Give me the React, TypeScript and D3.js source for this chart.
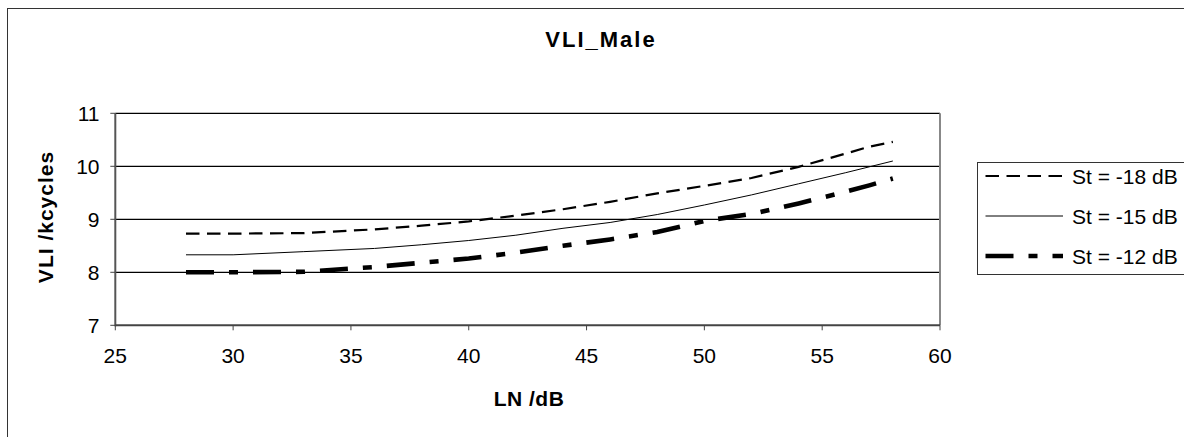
import React from "react";
import * as d3 from "d3";

const title = "VLI_Male";
const xLabel = "LN /dB";
const yLabel = "VLI /kcycles";
const xTicks = [25, 30, 35, 40, 45, 50, 55, 60];
const yTicks = [7, 8, 9, 10, 11];
const ln = [28, 30, 33, 36, 38, 40, 42, 44, 46, 48, 50, 52, 54, 56, 57, 58];
const st18 = [8.73, 8.73, 8.74, 8.81, 8.88, 8.96, 9.07, 9.19, 9.33, 9.49, 9.63, 9.78, 9.99, 10.24, 10.37, 10.46];
const st15 = [8.33, 8.33, 8.39, 8.45, 8.52, 8.6, 8.7, 8.83, 8.94, 9.09, 9.27, 9.46, 9.67, 9.88, 9.99, 10.1];
const st12 = [8.0, 8.0, 8.01, 8.1, 8.18, 8.26, 8.37, 8.5, 8.62, 8.76, 8.97, 9.1, 9.3, 9.52, 9.64, 9.77];
const seriesNames = ["St = -18 dB", "St = -15 dB", "St = -12 dB"];

const styles = [
  { width: 2.2, dash: "13.5 7.5" },
  { width: 1, dash: "" },
  { width: 4.6, dash: "28 15 9 15" },
];

const FONT = "Arial, 'Liberation Sans', sans-serif";

export default function App() {
  const W = 1184, H = 437;
  const left = 115.3, right = 940, top = 113.3, bottom = 325.3;
  const x = d3.scaleLinear().domain([25, 60]).range([left, right]);
  const y = d3.scaleLinear().domain([7, 11]).range([bottom, top]);
  const data = [st18, st15, st12];
  const line = d3
    .line<number>()
    .x((_, i) => x(ln[i]))
    .y((d) => y(d));

  const legY = [176, 216, 256];

  return (
    <svg
      width={W}
      height={H}
      style={{ position: "absolute", left: 0, top: 0, display: "block", background: "#fff" }}
      fontFamily={FONT}
    >
      <rect x={7.5} y={8.5} width={1200} height={500} fill="#fff" stroke="#333" strokeWidth={1} />
      <text x={601} y={46.5} textAnchor="middle" fontWeight="bold" fontSize={22} letterSpacing={2}>
        {title}
      </text>
      {/* gridlines */}
      {yTicks.filter((t) => t !== 7).map((t) => (
        <line key={t} x1={left} x2={right} y1={y(t)} y2={y(t)} stroke="#000" strokeWidth={1.2} />
      ))}
      {/* plot border */}
      <line x1={right} x2={right} y1={top} y2={bottom} stroke="#888" strokeWidth={2} />
      <line x1={left} x2={left} y1={top} y2={bottom + 1} stroke="#555" strokeWidth={2} />
      <line x1={left} x2={right} y1={bottom} y2={bottom} stroke="#444" strokeWidth={2} />
      {/* y ticks */}
      {yTicks.map((t) => (
        <g key={t}>
          <line x1={left - 5} x2={left} y1={y(t)} y2={y(t)} stroke="#444" strokeWidth={1} />
          <text x={99.5} y={y(t)} dy="0.36em" textAnchor="end" fontSize={21}>
            {t}
          </text>
        </g>
      ))}
      {/* x ticks */}
      {xTicks.map((t) => (
        <g key={t}>
          <line x1={x(t)} x2={x(t)} y1={bottom} y2={bottom + 5} stroke="#444" strokeWidth={1} />
          <text x={x(t)} y={362.5} textAnchor="middle" fontSize={21}>
            {t}
          </text>
        </g>
      ))}
      <text x={529} y={405.5} textAnchor="middle" fontWeight="bold" fontSize={21} letterSpacing={0.5}>
        {xLabel}
      </text>
      <text
        transform={`translate(52.5,217) rotate(-90)`}
        textAnchor="middle"
        fontWeight="bold"
        fontSize={21}
        letterSpacing={1}
      >
        {yLabel}
      </text>
      {/* series */}
      {data.map((d, i) => (
        <path
          key={i}
          d={line(d) || ""}
          fill="none"
          stroke="#000"
          strokeWidth={styles[i].width}
          strokeDasharray={styles[i].dash}
        />
      ))}
      {/* legend */}
      <rect x={977.5} y={162.5} width={240} height={112} fill="#fff" stroke="#333" strokeWidth={1} />
      {seriesNames.map((n, i) => (
        <g key={n}>
          <line
            x1={985.5}
            x2={1063}
            y1={legY[i]}
            y2={legY[i]}
            stroke="#000"
            strokeWidth={styles[i].width}
            strokeDasharray={styles[i].dash}
          />
          <text x={1072} y={legY[i]} dy="0.36em" fontSize={21}>
            {n}
          </text>
        </g>
      ))}
    </svg>
  );
}
